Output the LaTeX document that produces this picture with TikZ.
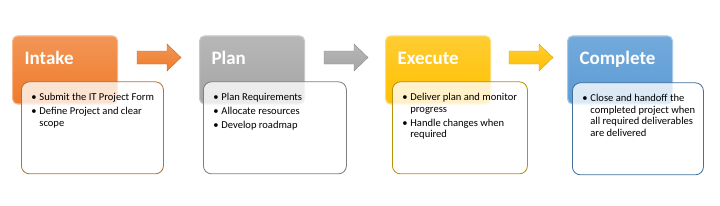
\documentclass[tikz,border=0pt]{standalone}
\usepackage{fontspec}
\setmainfont{Carlito}
\usepackage{tikz}
\usetikzlibrary{positioning}
\definecolor{orangeA}{HTML}{EF7B2B}
\definecolor{greyA}{HTML}{A5A5A5}
\definecolor{goldA}{HTML}{FFC000}
\definecolor{blueA}{HTML}{5B9BD5}
\definecolor{orangeB}{HTML}{B8702E}
\definecolor{greyB}{HTML}{7F7F7F}
\definecolor{goldB}{HTML}{B8900A}
\definecolor{blueB}{HTML}{41719C}
\newcommand{\bitem}[1]{\par\hangindent=0.2cm\hangafter=1\noindent\rule{0pt}{0.2cm}\makebox[0.2cm][l]{\textbullet}#1}
\newcommand{\notes}[2]{\parbox[t][1.75cm][t]{#1}{\fontsize{7.5}{8.2}\selectfont\raggedright\leftskip=0.15cm\setlength{\parskip}{1.6pt}#2}}

\begin{document}
\begin{tikzpicture}[line cap=round,
  title/.style={anchor=north west,rounded corners=0.125cm,minimum width=2.625cm,
    inner xsep=0.3cm,inner ysep=0,text width=2.025cm,align=left,
    text height=0.71cm,text depth=0.99cm,text=white,line width=0.8pt,
    font=\fontsize{13.5}{16}\selectfont\bfseries},
  note/.style={anchor=north west,rounded corners=0.2cm,fill=white,fill opacity=0.78,
    text opacity=1,inner xsep=0.1cm,inner ysep=0.275cm,line width=0.6pt}]
\useasboundingbox (0,0) rectangle (18,5.125);
% title boxes
\node[title,top color=orangeA!80!white,bottom color=orangeA,draw=orangeA!55!white] (intake) at (0.3,4.24) {Intake};
\node[title,top color=greyA!80!white,bottom color=greyA,draw=greyA!60!white] (plan) at (4.975,4.24) {Plan};
\node[title,top color=goldA!80!white,bottom color=goldA,draw=goldA!55!white] (execute) at (9.625,4.24) {Execute};
\node[title,top color=blueA!85!white,bottom color=blueA,draw=blueA!55!white] (complete) at (14.175,4.24) {Complete};
% block arrows
\foreach \x/\c in {3.425/orangeA,8.1/greyA,12.725/goldA}
  \path[top color=\c!80!white,bottom color=\c,draw=\c!85!black,line width=0.3pt]
    (\x,3.525) -- ++(0.75,0) -- ++(0,-0.175) -- ++(0.35,0.3375) -- ++(-0.35,0.3375)
    -- ++(0,-0.175) -- ++(-0.75,0) -- cycle;
% notes
\node[note,draw=orangeB,below right=1.15cm and 0.225cm of intake.north west] (intakenotes)
  {\notes{3.35cm}{\bitem{Submit the IT Project Form}\bitem{Define Project and clear\newline scope}}};
\node[note,draw=greyB,below right=1.15cm and 0.1cm of plan.north west] (plannotes)
  {\notes{3.375cm}{\bitem{Plan Requirements}\bitem{Allocate resources}\bitem{Develop roadmap}}};
\node[note,draw=goldB,below right=1.15cm and 0.175cm of execute.north west] (executenotes)
  {\notes{3.175cm}{\bitem{Deliver plan and monitor\newline progress}\bitem{Handle changes when\newline required}}};
\node[note,draw=blueB,below right=1.175cm and 0.125cm of complete.north west] (completenotes)
  {\notes{3.075cm}{\bitem{Close and handoff the\newline completed project when\newline all required deliverables\newline are delivered}}};
\end{tikzpicture}
\end{document}
